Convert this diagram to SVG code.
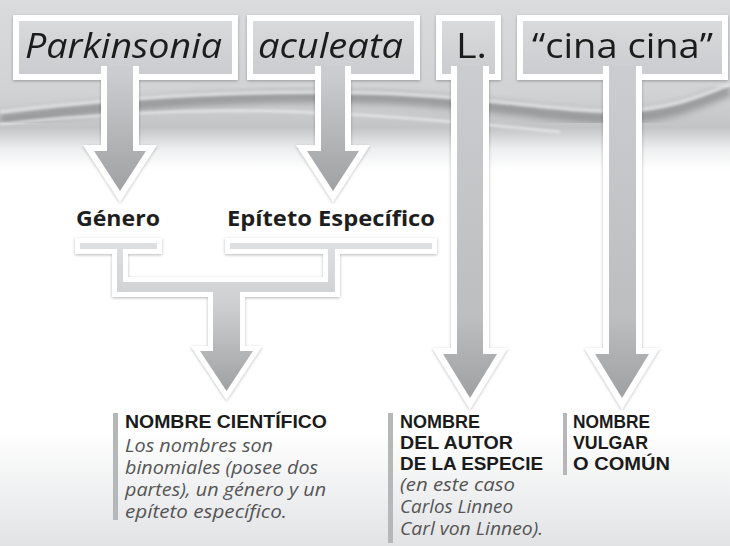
<svg xmlns="http://www.w3.org/2000/svg" width="730" height="546" viewBox="0 0 730 546">
<defs>
  <linearGradient id="bgTop" x1="0" y1="0" x2="0" y2="170" gradientUnits="userSpaceOnUse">
    <stop offset="0" stop-color="#dadbdd"/>
    <stop offset="0.55" stop-color="#d1d2d4"/>
    <stop offset="0.75" stop-color="#c3c4c6"/>
    <stop offset="0.88" stop-color="#eeeff0"/>
    <stop offset="1" stop-color="#ffffff"/>
  </linearGradient>
  <linearGradient id="bgBot" x1="0" y1="0" x2="0" y2="1">
    <stop offset="0" stop-color="#ffffff"/>
    <stop offset="1" stop-color="#e2e3e5"/>
  </linearGradient>
  <linearGradient id="gBox" x1="0" y1="0" x2="0" y2="1">
    <stop offset="0" stop-color="#d9dadc"/>
    <stop offset="1" stop-color="#cbcccf"/>
  </linearGradient>
  <linearGradient id="gShort" x1="0" y1="74" x2="0" y2="191" gradientUnits="userSpaceOnUse">
    <stop offset="0" stop-color="#cbcccf"/>
    <stop offset="1" stop-color="#a0a1a3"/>
  </linearGradient>
  <linearGradient id="gLong" x1="0" y1="74" x2="0" y2="398" gradientUnits="userSpaceOnUse">
    <stop offset="0" stop-color="#cbcccf"/>
    <stop offset="0.75" stop-color="#bdbec0"/>
    <stop offset="1" stop-color="#9fa0a2"/>
  </linearGradient>
  <linearGradient id="gBracket" x1="0" y1="243" x2="0" y2="391" gradientUnits="userSpaceOnUse">
    <stop offset="0" stop-color="#dedfe1"/>
    <stop offset="0.4" stop-color="#cfd0d2"/>
    <stop offset="1" stop-color="#a0a1a3"/>
  </linearGradient>
  <filter id="sh" x="-10%" y="-10%" width="120%" height="120%">
    <feDropShadow dx="0" dy="1" stdDeviation="1.6" flood-color="#000" flood-opacity="0.28"/>
  </filter>
  <filter id="blur3"><feGaussianBlur stdDeviation="3"/></filter>
  <filter id="blur1"><feGaussianBlur stdDeviation="1.2"/></filter>
  <style>
    .box { fill: url(#gBox); stroke: #fff; stroke-width: 12; paint-order: stroke; }
    .arw { stroke: #fff; stroke-width: 12; paint-order: stroke; stroke-linejoin: miter; stroke-miterlimit: 10; }
    .brk { fill: url(#gBracket); stroke: #fff; stroke-width: 10; paint-order: stroke; stroke-linejoin: miter; stroke-miterlimit: 10; }
    .big { font-family: "Open Sans", "Liberation Sans", sans-serif; font-size: 34px; fill: #1e1e1e; font-weight: 400; }
    .it { font-style: italic; }
    .lbl { font-family: "Open Sans", "Liberation Sans", sans-serif; font-size: 21px; font-weight: 700; fill: #1e1e1e; }
    .ttl { font-family: "Liberation Sans", Arial, sans-serif; font-size: 18px; font-weight: 700; fill: #1b1b1b; }
    .desc { font-family: "Open Sans", "Liberation Sans", sans-serif; font-size: 18px; font-style: italic; fill: #555; }
    .bar { fill: #b6b7b9; }
  </style>
</defs>

<!-- background -->
<rect x="0" y="0" width="730" height="546" fill="#ffffff"/>
<rect x="0" y="0" width="730" height="175" fill="url(#bgTop)"/>
<rect x="0" y="430" width="730" height="116" fill="url(#bgBot)"/>
<path d="M0,120 C120,103 250,94 380,98 C480,101 560,119 620,118 C670,116 700,102 730,90" fill="none" stroke="#858688" stroke-width="12" opacity="0.7" filter="url(#blur3)"/>
<path d="M0,112 C120,97 250,89 380,93 C480,96 560,112 620,111 C670,109 700,96 730,84" fill="none" stroke="#e2e3e5" stroke-width="4" opacity="0.8" filter="url(#blur1)"/>
<path d="M0,124 C100,114 200,108 300,112 C400,116 480,124 560,132" fill="none" stroke="#f0f0f1" stroke-width="3" opacity="0.6" filter="url(#blur1)"/>

<g filter="url(#sh)">
  <!-- top nodes -->
  <g id="node-parkinsonia">
    <rect class="box" x="19" y="21" width="213" height="53"/>
    <text class="big it" x="25" y="58" textLength="197" lengthAdjust="spacingAndGlyphs">Parkinsonia</text>
  </g>
  <g id="node-aculeata">
    <rect class="box" x="253" y="21" width="161" height="53"/>
    <text class="big it" x="258" y="58" textLength="145" lengthAdjust="spacingAndGlyphs">aculeata</text>
  </g>
  <g id="node-autor">
    <rect class="box" x="442" y="21" width="53" height="53"/>
    <text class="big" x="456" y="58" textLength="31" lengthAdjust="spacingAndGlyphs">L.</text>
  </g>
  <g id="node-vulgar">
    <rect class="box" x="523" y="21" width="199" height="53"/>
    <text class="big" x="532" y="58" textLength="181" lengthAdjust="spacingAndGlyphs">“cina cina”</text>
  </g>

  <!-- connectors -->
  <g id="connectors">
    <path class="arw" fill="url(#gShort)" d="M107,66 V151 H94 L120,191 L146,151 H133 V66"/>
    <path class="arw" fill="url(#gShort)" d="M321,66 V151 H307 L333,191 L359,151 H345 V66"/>
    <path class="arw" fill="url(#gLong)" d="M457,66 V354 H443 L470,398 L497,354 H483 V66"/>
    <path class="arw" fill="url(#gLong)" d="M609,66 V354 H595 L622,398 L649,354 H636 V66"/>
    <path class="brk" d="M80,243 H157 V249 H123 V282 H328 V249 H230 V243 H432 V249 H335 V292 H240 V351 H253 L226.5,391 L200,351 H213 V292 H117 V249 H80 Z"/>
  </g>
</g>

<g id="node-genero">
  <text class="lbl" x="76" y="226" textLength="84" lengthAdjust="spacingAndGlyphs">Género</text>
</g>
<g id="node-epiteto">
  <text class="lbl" x="227" y="226" textLength="208" lengthAdjust="spacingAndGlyphs">Epíteto Específico</text>
</g>

<g id="node-cientifico">
  <rect class="bar" x="113" y="413" width="5" height="107"/>
  <text class="ttl" x="125" y="428" textLength="202" lengthAdjust="spacingAndGlyphs">NOMBRE CIENTÍFICO</text>
  <text class="desc" x="125" y="452" textLength="148" lengthAdjust="spacingAndGlyphs">Los nombres son</text>
  <text class="desc" x="125" y="474" textLength="193" lengthAdjust="spacingAndGlyphs">binomiales (posee dos</text>
  <text class="desc" x="125" y="496" textLength="201" lengthAdjust="spacingAndGlyphs">partes), un género y un</text>
  <text class="desc" x="125" y="518" textLength="162" lengthAdjust="spacingAndGlyphs">epíteto específico.</text>
</g>

<g id="node-autor-desc">
  <rect class="bar" x="388" y="413" width="5" height="130"/>
  <text class="ttl" x="400" y="428" textLength="80" lengthAdjust="spacingAndGlyphs">NOMBRE</text>
  <text class="ttl" x="400" y="449" textLength="113" lengthAdjust="spacingAndGlyphs">DEL AUTOR</text>
  <text class="ttl" x="400" y="470" textLength="143" lengthAdjust="spacingAndGlyphs">DE LA ESPECIE</text>
  <text class="desc" x="400" y="491" textLength="115" lengthAdjust="spacingAndGlyphs">(en este caso</text>
  <text class="desc" x="400" y="513" textLength="113" lengthAdjust="spacingAndGlyphs">Carlos Linneo</text>
  <text class="desc" x="400" y="535" textLength="143" lengthAdjust="spacingAndGlyphs">Carl von Linneo).</text>
</g>

<g id="node-vulgar-desc">
  <rect class="bar" x="563" y="413" width="4" height="62"/>
  <text class="ttl" x="573" y="428" textLength="77" lengthAdjust="spacingAndGlyphs">NOMBRE</text>
  <text class="ttl" x="573" y="449" textLength="75" lengthAdjust="spacingAndGlyphs">VULGAR</text>
  <text class="ttl" x="573" y="470" textLength="97" lengthAdjust="spacingAndGlyphs">O COMÚN</text>
</g>
</svg>
